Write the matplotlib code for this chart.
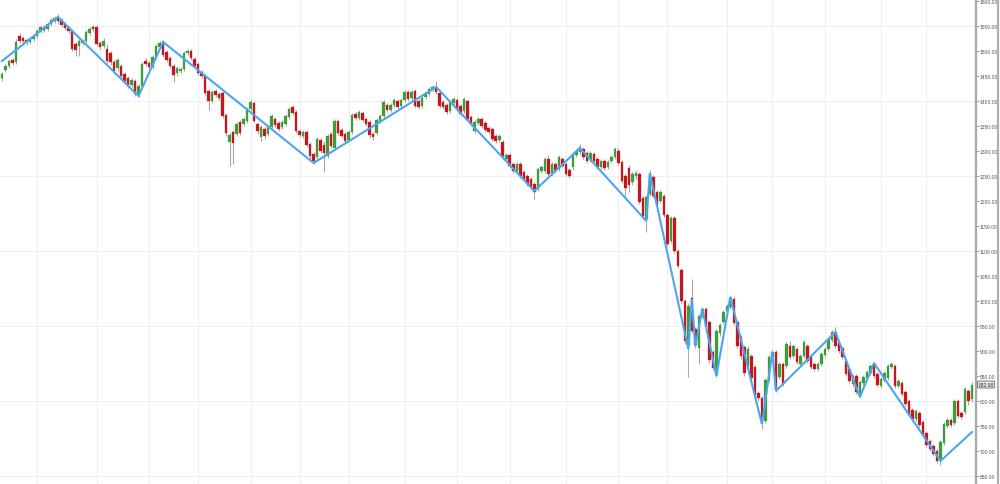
import numpy as np
import matplotlib
matplotlib.use("Agg")
import matplotlib.pyplot as plt
import matplotlib.transforms as mtransforms
from matplotlib.lines import Line2D

# daily candles (price units)
opens = [
    1446, 1462, 1470, 1482, 1478, 1530, 1526, 1522, 1518, 1524,
    1530, 1540, 1548, 1544, 1554, 1560, 1566, 1562, 1554, 1546,
    1540, 1514, 1510, 1516, 1520, 1536, 1548, 1548, 1516, 1510,
    1504, 1496, 1478, 1466, 1470, 1454, 1446, 1432, 1440, 1412,
    1430, 1480, 1476, 1468, 1488, 1508, 1516, 1498, 1486, 1470,
    1456, 1460, 1464, 1496, 1500, 1484, 1474, 1458, 1450, 1420,
    1400, 1420, 1414, 1416, 1372, 1318, 1338, 1334, 1358, 1354,
    1360, 1384, 1396, 1354, 1328, 1344, 1334, 1348, 1364, 1356,
    1348, 1354, 1368, 1388, 1378, 1340, 1330, 1338, 1314, 1294,
    1288, 1322, 1312, 1290, 1334, 1306, 1360, 1342, 1334, 1322,
    1338, 1374, 1366, 1376, 1364, 1358, 1334, 1336, 1360, 1370,
    1392, 1382, 1392, 1400, 1390, 1402, 1418, 1406, 1420, 1400,
    1390, 1408, 1414, 1424, 1428, 1416, 1398, 1392, 1380, 1396,
    1402, 1390, 1380, 1400, 1368, 1340, 1356, 1364, 1356, 1346,
    1344, 1330, 1322, 1318, 1284, 1292, 1274, 1260, 1274, 1258,
    1250, 1244, 1234, 1224, 1260, 1260, 1284, 1256, 1274, 1264,
    1284, 1274, 1262, 1268, 1292, 1298, 1304, 1296, 1282, 1294,
    1284, 1268, 1280, 1268, 1280, 1288, 1300, 1278, 1250, 1266,
    1238, 1250, 1254, 1206, 1164, 1214, 1248, 1218, 1200, 1210,
    1172, 1120, 1166, 1100, 1062, 1000, 912, 1006, 944, 906,
    970, 984, 958, 898, 852, 936, 958, 980, 988, 1004,
    958, 928, 908, 870, 890, 868, 816, 806, 760, 842,
    888, 898, 848, 874, 870, 910, 890, 904, 874, 890,
    910, 890, 874, 864, 874, 892, 904, 922, 938, 916,
    906, 880, 864, 834, 850, 812, 836, 846, 856, 872,
    854, 830, 842, 846, 868, 870, 830, 836, 818, 800,
    782, 764, 776, 758, 736, 720, 710, 700, 684, 716,
    750, 762, 756, 800, 776, 778, 820, 804,
]
closes = [
    1454, 1470, 1480, 1477, 1518, 1520, 1520, 1518, 1524, 1530,
    1540, 1548, 1542, 1554, 1562, 1566, 1560, 1552, 1546, 1540,
    1504, 1502, 1520, 1520, 1538, 1544, 1544, 1514, 1508, 1520,
    1480, 1478, 1460, 1482, 1450, 1440, 1432, 1442, 1414, 1430,
    1474, 1474, 1468, 1488, 1510, 1516, 1492, 1482, 1470, 1452,
    1466, 1464, 1496, 1500, 1486, 1470, 1456, 1450, 1416, 1400,
    1418, 1412, 1406, 1370, 1336, 1332, 1316, 1354, 1336, 1364,
    1384, 1398, 1360, 1340, 1348, 1330, 1348, 1370, 1352, 1344,
    1358, 1370, 1384, 1376, 1340, 1332, 1338, 1312, 1290, 1280,
    1324, 1300, 1296, 1330, 1310, 1360, 1336, 1330, 1320, 1338,
    1372, 1366, 1378, 1362, 1354, 1332, 1328, 1362, 1370, 1398,
    1382, 1392, 1402, 1388, 1402, 1418, 1404, 1418, 1390, 1388,
    1406, 1414, 1424, 1428, 1418, 1390, 1388, 1378, 1398, 1404,
    1384, 1374, 1404, 1364, 1354, 1358, 1364, 1350, 1342, 1338,
    1324, 1320, 1330, 1290, 1292, 1270, 1260, 1274, 1250, 1244,
    1234, 1228, 1218, 1264, 1268, 1284, 1254, 1274, 1260, 1288,
    1270, 1254, 1250, 1294, 1300, 1308, 1288, 1280, 1296, 1280,
    1268, 1280, 1266, 1278, 1288, 1304, 1276, 1240, 1226, 1232,
    1254, 1256, 1198, 1170, 1208, 1254, 1210, 1192, 1218, 1172,
    1114, 1166, 1100, 1070, 1000, 920, 990, 940, 912, 970,
    984, 950, 882, 866, 940, 952, 978, 990, 1006, 956,
    910, 890, 856, 904, 846, 812, 806, 760, 842, 888,
    898, 824, 874, 834, 914, 888, 910, 878, 890, 918,
    880, 868, 864, 874, 894, 904, 924, 938, 910, 900,
    888, 854, 840, 850, 818, 838, 848, 858, 870, 850,
    832, 844, 856, 870, 874, 830, 840, 814, 794, 772,
    764, 780, 752, 734, 712, 704, 694, 680, 718, 754,
    762, 752, 800, 770, 768, 824, 800, 832.98,
]
highs = [
    1458, 1474, 1484, 1486, 1524, 1536, 1530, 1526, 1528, 1534,
    1544, 1552, 1552, 1558, 1566, 1570, 1574, 1566, 1558, 1550,
    1544, 1518, 1524, 1524, 1542, 1548, 1552, 1552, 1520, 1526,
    1514, 1500, 1482, 1486, 1474, 1458, 1450, 1446, 1444, 1434,
    1478, 1486, 1480, 1492, 1514, 1520, 1522, 1502, 1490, 1474,
    1470, 1468, 1500, 1504, 1504, 1488, 1478, 1462, 1454, 1424,
    1422, 1424, 1418, 1420, 1376, 1336, 1342, 1358, 1362, 1368,
    1388, 1402, 1400, 1358, 1352, 1348, 1352, 1374, 1368, 1360,
    1362, 1374, 1388, 1392, 1382, 1344, 1342, 1342, 1318, 1298,
    1328, 1326, 1320, 1334, 1338, 1364, 1364, 1346, 1338, 1342,
    1376, 1378, 1382, 1380, 1368, 1362, 1338, 1366, 1374, 1402,
    1396, 1396, 1406, 1404, 1406, 1422, 1422, 1422, 1424, 1404,
    1410, 1418, 1428, 1432, 1440, 1420, 1402, 1396, 1402, 1408,
    1406, 1394, 1408, 1404, 1372, 1362, 1368, 1368, 1360, 1350,
    1348, 1334, 1334, 1322, 1296, 1296, 1278, 1278, 1278, 1262,
    1254, 1248, 1238, 1268, 1272, 1288, 1292, 1278, 1278, 1292,
    1288, 1278, 1266, 1298, 1304, 1314, 1308, 1300, 1300, 1298,
    1288, 1284, 1284, 1282, 1292, 1308, 1306, 1282, 1254, 1272,
    1258, 1262, 1258, 1210, 1212, 1262, 1252, 1222, 1222, 1214,
    1176, 1170, 1170, 1104, 1066, 1004, 996, 1044, 948, 974,
    988, 988, 962, 902, 944, 956, 982, 994, 1010, 1008,
    962, 932, 912, 910, 894, 872, 820, 810, 846, 892,
    902, 902, 878, 878, 918, 920, 914, 908, 894, 922,
    914, 894, 878, 878, 898, 908, 928, 942, 948, 920,
    910, 884, 868, 854, 854, 842, 852, 862, 874, 878,
    858, 848, 860, 874, 878, 874, 844, 840, 822, 804,
    786, 784, 780, 762, 740, 724, 714, 704, 722, 758,
    766, 766, 804, 804, 780, 828, 824, 838,
]
lows = [
    1440, 1458, 1466, 1472, 1474, 1516, 1516, 1512, 1514, 1520,
    1526, 1536, 1538, 1540, 1550, 1556, 1554, 1548, 1542, 1536,
    1500, 1490, 1490, 1512, 1516, 1532, 1540, 1510, 1502, 1506,
    1476, 1472, 1454, 1460, 1446, 1436, 1426, 1428, 1410, 1408,
    1426, 1470, 1462, 1464, 1484, 1504, 1488, 1478, 1466, 1438,
    1450, 1456, 1460, 1492, 1482, 1466, 1452, 1446, 1412, 1382,
    1396, 1408, 1402, 1366, 1330, 1270, 1274, 1330, 1332, 1350,
    1356, 1380, 1356, 1334, 1320, 1324, 1330, 1344, 1348, 1340,
    1344, 1350, 1364, 1372, 1336, 1328, 1326, 1308, 1284, 1274,
    1284, 1296, 1258, 1286, 1306, 1302, 1332, 1326, 1316, 1318,
    1334, 1362, 1362, 1358, 1350, 1326, 1322, 1332, 1356, 1366,
    1378, 1378, 1388, 1384, 1386, 1398, 1400, 1402, 1386, 1384,
    1386, 1404, 1410, 1420, 1414, 1386, 1384, 1374, 1376, 1392,
    1380, 1370, 1376, 1360, 1350, 1336, 1352, 1346, 1338, 1334,
    1320, 1316, 1318, 1286, 1280, 1266, 1256, 1256, 1246, 1240,
    1230, 1224, 1204, 1220, 1256, 1256, 1250, 1250, 1256, 1260,
    1266, 1250, 1246, 1262, 1288, 1294, 1284, 1276, 1278, 1276,
    1264, 1264, 1262, 1264, 1276, 1284, 1272, 1236, 1210, 1218,
    1232, 1244, 1194, 1164, 1138, 1210, 1206, 1188, 1196, 1168,
    1110, 1116, 1096, 1066, 994, 914, 848, 936, 906, 874,
    966, 946, 876, 862, 848, 930, 954, 976, 984, 952,
    906, 884, 850, 864, 840, 806, 800, 744, 756, 838,
    884, 818, 844, 830, 866, 884, 886, 874, 870, 886,
    876, 864, 860, 860, 870, 888, 900, 918, 906, 896,
    884, 850, 836, 828, 814, 806, 832, 842, 852, 846,
    828, 826, 838, 842, 864, 826, 826, 810, 790, 768,
    760, 760, 748, 730, 708, 700, 690, 676, 672, 712,
    746, 748, 752, 766, 764, 774, 792, 798,
]

# zigzag pivots (candle index, price)
zz_idx = [0, 16, 39, 46, 89, 124, 152, 165, 184, 185, 196, 197, 198,
          200, 204, 208, 217, 220, 221, 238, 245, 249, 268, 277]
zz_val = [1480, 1568, 1410, 1518, 1276, 1428, 1220, 1306, 1160, 1256, 904, 1004, 910,
          984, 850, 1008, 754, 898, 820, 938, 808, 876, 680, 738]

# month separators (candle index) and price ticks
month_idx = [10, 27, 42, 56, 71, 85, 99, 115, 130, 145, 161, 176, 190, 207, 220, 235, 251, 264]
grid_prices = [650, 800, 950, 1100, 1250, 1400, 1550]
tick_prices = list(range(650, 1601, 50))

o = np.array(opens, dtype=float)
c = np.array(closes, dtype=float)
h = np.array(highs, dtype=float)
l = np.array(lows, dtype=float)
x = np.arange(len(c))

up = "#3f9c3a"
down = "#c4161c"
cols = np.where(c >= o, up, down)

fig = plt.figure(figsize=(10, 4.85), dpi=100)
ax = fig.add_axes([0, 0, 0.9755, 1])

for m in month_idx:
    ax.axvline(m, color="#efefef", lw=0.8, zorder=0)
for g in grid_prices:
    ax.axhline(g, color="#efefef", lw=0.8, zorder=0)

ax.vlines(x, l, h, color="#a8a8a8", lw=0.8, zorder=2)
body = np.maximum(np.abs(c - o), 1.5)
ax.bar(x, body, bottom=np.minimum(o, c), width=0.72, color=cols,
       edgecolor=cols, linewidth=0.2, zorder=3)

ax.plot(zz_idx, zz_val, color="#4aa6f2", lw=1.5, zorder=5, solid_joinstyle="miter")

ax.set_xlim(-0.57, 278)
ax.set_ylim(634, 1604)

for s in ["left", "top", "bottom"]:
    ax.spines[s].set_visible(False)
ax.spines["right"].set_color("#a8a8a8")
ax.spines["right"].set_linewidth(1.6)
ax.set_xticks([])
ax.yaxis.tick_right()
ax.set_yticks(tick_prices)
ax.set_yticklabels(["%.2f" % t for t in tick_prices], family="Liberation Sans")
ax.tick_params(axis="y", length=2, width=0.6, color="#888888", pad=1,
               labelsize=3.6, labelcolor="#555555")

# last price tag
trans = mtransforms.blended_transform_factory(ax.transAxes, ax.transData)
ax.text(1.003, c[-1], "%.2f" % c[-1], transform=trans, fontsize=3.6, color="#333333",
        family="Liberation Sans", va="center", ha="left", clip_on=False, zorder=6,
        bbox=dict(boxstyle="round,pad=0.2", fc="#e4e4e4", ec="#666666", lw=0.6))

fig.add_artist(Line2D([0.9975, 0.9975], [0, 1], color="#b0b0b0", lw=1.6))

fig.savefig("out.png", dpi=100, facecolor="white")
